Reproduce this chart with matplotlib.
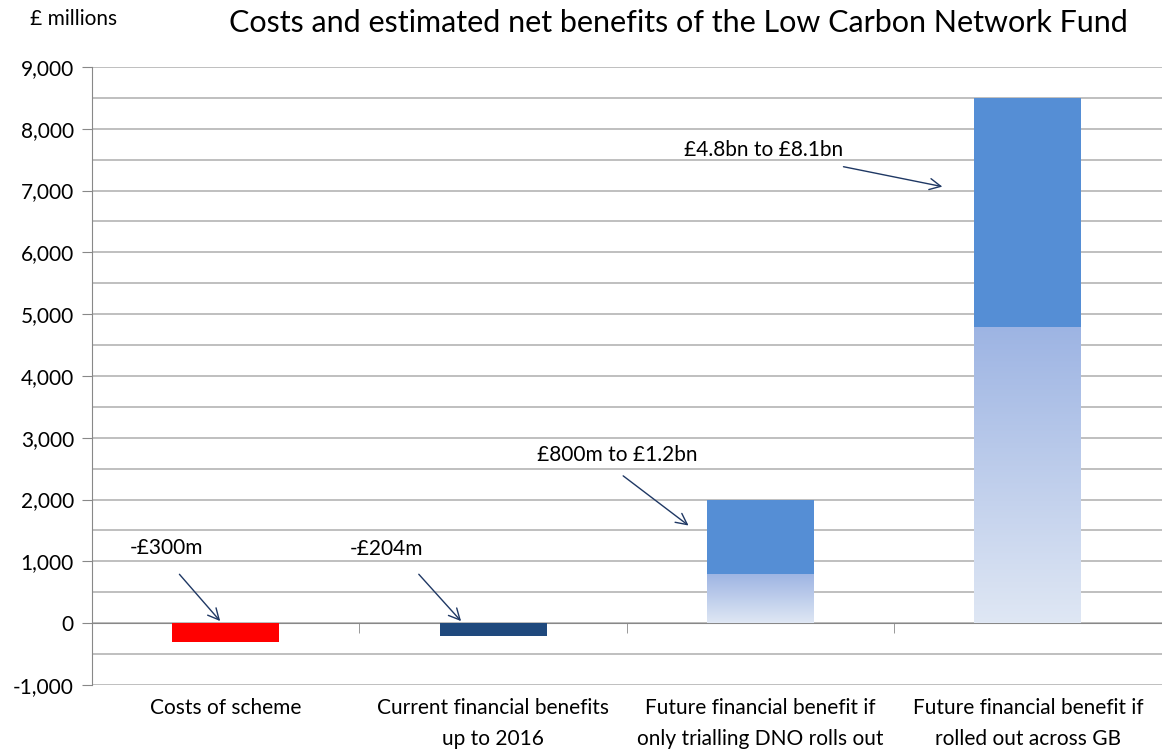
import numpy as np
import matplotlib
matplotlib.use("Agg")
import matplotlib.pyplot as plt
from matplotlib.colors import LinearSegmentedColormap

plt.rcParams['font.family'] = ['Lato', 'DejaVu Sans']

categories = ["Costs of scheme",
              "Current financial benefits\nup to 2016",
              "Future financial benefit if\nonly trialling DNO rolls out",
              "Future financial benefit if\nrolled out across GB"]
neg_values = [-300, -204]          # costs and current benefits
low_values = [800, 4800]           # lower estimate (gradient part)
high_values = [2000, 8500]         # upper estimate (solid top)
notes = ["-£300m", "-£204m", "£800m to £1.2bn", "£4.8bn to £8.1bn"]

fig = plt.figure(figsize=(11.62, 7.5), dpi=100)
ax = fig.add_axes([0.0792, 0.0867, 0.9205, 0.824])

x = np.arange(len(categories))
w = 0.4

ax.bar(x[0], neg_values[0], w, color='#ff0000', zorder=3)
ax.bar(x[1], neg_values[1], w, color='#1f497d', zorder=3)

fx = x[2:]
ax.bar(fx, np.array(high_values) - np.array(low_values), w, bottom=low_values,
       color='#558ed5', zorder=3)

grad_cmap = LinearSegmentedColormap.from_list('g', ['#dfe7f4', '#9db4e3'])
grad = np.linspace(0, 1, 256).reshape(-1, 1)
ghost = ax.bar(fx, low_values, w, color='none', zorder=3)
for p in ghost.patches:
    im = ax.imshow(grad, cmap=grad_cmap, aspect='auto', origin='lower',
                   extent=[p.get_x(), p.get_x() + p.get_width(), 0, p.get_height()],
                   zorder=3)
    im.set_clip_path(p)

ax.set_xlim(-0.5, 3.5)
ax.set_ylim(-1000, 9000)
ax.set_yticks(np.arange(-1000, 9001, 1000))
ax.set_yticks(np.arange(-500, 9000, 1000), minor=True)
ax.set_yticklabels([f"{v:,}" for v in range(-1000, 9001, 1000)], fontsize=15)
ax.tick_params(axis='y', which='major', length=7, color='#888888', pad=6)
ax.tick_params(axis='y', which='minor', length=0)
ax.grid(axis='y', which='both', color='#b4b4b4', lw=1.2, zorder=0)

ax.spines['bottom'].set_position(('data', 0))
for s in ['top', 'right']:
    ax.spines[s].set_visible(False)
ax.spines['left'].set_color('#888888')
ax.spines['bottom'].set_color('#888888')
ax.set_xticks(x)
ax.set_xticklabels(categories, fontsize=15, linespacing=1.65)
ax.set_xticks(x[:-1] + 0.5, minor=True)
ax.tick_params(axis='x', which='major', length=0, pad=54)
ax.tick_params(axis='x', which='minor', length=7, color='#888888', direction='out')

arrow = dict(arrowstyle='->', color='#1f3864', lw=1, mutation_scale=20)
ax.text(-0.36, 1214, notes[0], fontsize=15, va='center', zorder=5)
ax.annotate("", xy=(-0.014, 0), xytext=(-0.18, 825), arrowprops=arrow, zorder=5)
ax.text(0.464, 1197, notes[1], fontsize=15, va='center', zorder=5)
ax.annotate("", xy=(0.887, 0), xytext=(0.715, 825), arrowprops=arrow, zorder=5)
ax.text(1.164, 2718, notes[2], fontsize=15, va='center', zorder=5)
ax.annotate("", xy=(1.739, 1553), xytext=(1.478, 2411), arrowprops=arrow, zorder=5)
ax.text(1.713, 7654, notes[3], fontsize=15, va='center', zorder=5)
ax.annotate("", xy=(2.69, 7055), xytext=(2.30, 7395), arrowprops=arrow, zorder=5)

fig.text(0.026, 0.975, "£ millions", fontsize=15, va='center')
fig.text(0.584, 0.970, "Costs and estimated net benefits of the Low Carbon Network Fund",
         fontsize=22, ha='center', va='center')

fig.savefig("out.png", dpi=100)
